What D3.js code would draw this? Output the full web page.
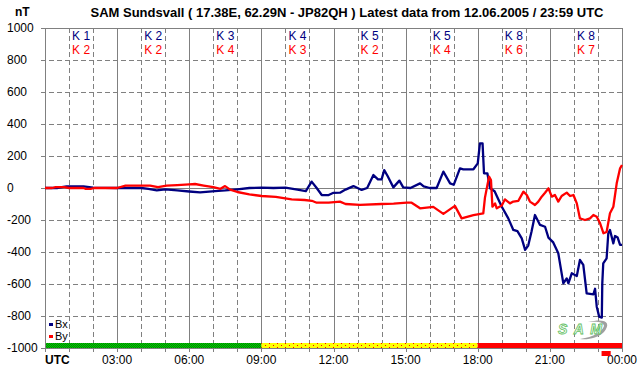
<!DOCTYPE html>
<html>
<head>
<meta charset="utf-8">
<script src="https://cdn.jsdelivr.net/npm/d3@7"></script>
<style>
  body { margin: 0; background: #fff; }
  svg { display: block; font-family: "Liberation Sans", Arial, sans-serif; }
</style>
</head>
<body>
<div id="chart"></div>
<script>
// Bx / By from SAM Sundsvall, hours UTC and nT
var bxHours = [0, 0.5, 0.9, 1.6, 2.0, 3.0, 4.0, 4.3, 4.65, 5.0, 5.5, 6.0, 6.45, 7.07, 7.5, 8.0, 8.5, 9.0, 9.5, 10.0,
  10.5, 10.85, 11.09, 11.3, 11.51, 11.8, 12.0, 12.27, 12.5, 12.83, 13.17, 13.4, 13.66, 13.85, 14.0, 14.11, 14.25, 14.49,
  14.74, 14.9, 15.2, 15.6, 15.75, 16.0, 16.29, 16.57, 16.85, 17.0, 17.26, 17.4, 17.82, 18.0, 18.09, 18.2, 18.26, 18.4,
  18.51, 18.7, 19.0, 19.27, 19.48, 19.65, 19.83, 19.97, 20.1, 20.24, 20.38, 20.59, 20.8, 20.94, 21.14, 21.35, 21.42,
  21.56, 21.7, 21.77, 21.91, 22.12, 22.25, 22.39, 22.53, 22.81, 22.88, 22.95, 23.05, 23.16, 23.18, 23.22, 23.36, 23.43,
  23.5, 23.64, 23.71, 23.82, 23.92, 24.0];
var bxValues = [0, 0, 10, 10, 2, 0, 0, -5, -15, -8, -15, -22, -27, -19, -15, -8, 0, 2, 0, 2,
  -10, -20, 40, 0, -44, -44, -30, -29, -10, 12, -12, 0, 81, 54, 54, 112, 75, 4,
  46, 4, 0, 29, 10, 0, 0, 102, 29, 20, 123, 117, 117, 154, 279, 279, 92, 92,
  -2, -20, -117, -190, -262, -270, -315, -387, -360, -270, -169, -231, -242, -310, -340, -408, -471,
  -596, -565, -596, -533, -550, -450, -480, -658, -665, -630, -742, -804, -810, -596, -471, -440, -283,
  -262, -346, -300, -310, -356, -356];

var byHours = [0, 0.3, 0.45, 0.8, 1.0, 1.6, 1.7, 1.9, 2.05, 3.0, 3.35, 4.37, 4.7, 5.06, 5.5, 6.0, 6.24, 6.6, 7.0, 7.3,
  7.49, 7.7, 8.0, 8.5, 9.01, 9.6, 10.26, 10.8, 11.1, 11.3, 11.8, 12.27, 12.5, 13.1, 14.0, 14.5, 15.05, 15.25, 15.6,
  16.15, 16.57, 17.05, 17.33, 17.82, 18.23, 18.3, 18.47, 18.55, 18.61, 18.72, 18.79, 19.0, 19.13, 19.34, 19.48, 19.69,
  19.9, 20.04, 20.17, 20.38, 20.52, 20.66, 20.8, 20.94, 21.08, 21.21, 21.35, 21.49, 21.7, 21.84, 21.98, 22.12, 22.25,
  22.46, 22.67, 22.81, 22.95, 23.09, 23.23, 23.36, 23.5, 23.64, 23.78, 23.92, 24.0];
var byValues = [0, 0, 6, 6, 0, 0, -6, -6, 0, 0, 15, 15, 5, 15, 18, 23, 25, 15, 5, -5,
  12, -10, -25, -40, -50, -55, -71, -75, -80, -92, -92, -85, -100, -106, -100, -98, -92, -92, -127,
  -118, -162, -112, -190, -169, -158, -60, 71, 50, -117, -96, -127, -110, -71, -96, -85, -80,
  -23, -44, -85, -106, -85, -54, -30, -2, -54, -44, -85, -50, -29, -50, -44, -96, -190,
  -200, -190, -169, -180, -221, -283, -275, -158, -117, 29, 123, 144];

// K indices per 3-hour block
var kBx = [1, 2, 3, 4, 5, 5, 8, 8];
var kBy = [2, 2, 4, 3, 2, 4, 6, 7];

var yTicks = [1000, 800, 600, 400, 200, 0, -200, -400, -600, -800, -1000];
var xTickLabels = ["UTC", "03:00", "06:00", "09:00", "12:00", "15:00", "18:00", "21:00", "00:00"];

// activity bar: start hour, end hour, level
var statusStart = [0, 9, 18];
var statusEnd = [9, 18, 24];
var statusLevel = ["quiet", "active", "storm"];
var markerHours = [23.15, 23.53];

(function () {
  var W = 642, H = 376;
  var pLeft = 45, pRight = 622, pTop = 28, pBottom = 348;

  var svg = d3.select("#chart").append("svg")
    .attr("width", W)
    .attr("height", H);

  var x = d3.scaleLinear().domain([0, 24]).range([pLeft, pRight]);
  var y = d3.scaleLinear().domain([-1000, 1000]).range([pBottom, pTop]);

  var defs = svg.append("defs");
  var pg = defs.append("pattern").attr("id", "pGreen")
    .attr("width", 2).attr("height", 2).attr("patternUnits", "userSpaceOnUse");
  pg.append("rect").attr("width", 2).attr("height", 2).attr("fill", "#00d000");
  pg.append("rect").attr("width", 1).attr("height", 1).attr("fill", "#008000");
  pg.append("rect").attr("x", 1).attr("y", 1).attr("width", 1).attr("height", 1).attr("fill", "#008000");
  var py = defs.append("pattern").attr("id", "pYellow")
    .attr("width", 8).attr("height", 4).attr("patternUnits", "userSpaceOnUse");
  py.append("rect").attr("width", 8).attr("height", 4).attr("fill", "#ffff00");
  py.append("rect").attr("x", 1).attr("y", 1).attr("width", 1).attr("height", 1).attr("fill", "#ff0000");
  py.append("rect").attr("x", 5).attr("y", 3).attr("width", 1).attr("height", 1).attr("fill", "#ff0000");
  var fills = { quiet: "url(#pGreen)", active: "url(#pYellow)", storm: "#ff0000" };

  var grid = "#808080";

  // horizontal grid
  svg.append("g").selectAll("line")
    .data(yTicks)
    .enter().append("line")
      .attr("x1", pLeft - 4).attr("x2", pRight)
      .attr("y1", function(d) { return Math.round(y(d)) + 0.5; })
      .attr("y2", function(d) { return Math.round(y(d)) + 0.5; })
      .attr("stroke", grid)
      .attr("stroke-dasharray", function(d) { return (d === 0 || d === 1000 || d === -1000) ? null : "5,3"; });

  // vertical grid, every hour
  svg.append("g").selectAll("line")
    .data(d3.range(0, 25))
    .enter().append("line")
      .attr("x1", function(d) { return Math.round(x(d)) + 0.5; })
      .attr("x2", function(d) { return Math.round(x(d)) + 0.5; })
      .attr("y1", pTop).attr("y2", pBottom + 4)
      .attr("stroke", grid)
      .attr("stroke-dasharray", function(d) { return d % 3 === 0 ? null : "5,3"; });

  // y labels
  svg.append("g").selectAll("text")
    .data(yTicks)
    .enter().append("text")
      .attr("x", 7)
      .attr("y", function(d) { return y(d); })
      .attr("dy", "0.35em")
      .attr("font-size", 12)
      .text(function(d) { return d; });

  // x labels
  svg.append("g").selectAll("text")
    .data(xTickLabels)
    .enter().append("text")
      .attr("x", function(d, i) { return i === 0 ? pLeft : x(i * 3); })
      .attr("y", 364)
      .attr("font-size", 12)
      .attr("font-weight", function(d, i) { return i === 0 ? "bold" : null; })
      .attr("text-anchor", function(d, i) { return i === 0 ? "start" : "middle"; })
      .text(function(d) { return d; });

  // K indices
  var kg = svg.append("g").attr("font-size", 12);
  kg.selectAll("text.kx")
    .data(kBx)
    .enter().append("text")
      .attr("class", "kx")
      .attr("x", function(d, i) { return x(i * 3 + 1.5); })
      .attr("y", 40)
      .attr("text-anchor", "middle")
      .attr("fill", "#000080")
      .text(function(d) { return "K " + d; });
  kg.selectAll("text.ky")
    .data(kBy)
    .enter().append("text")
      .attr("class", "ky")
      .attr("x", function(d, i) { return x(i * 3 + 1.5); })
      .attr("y", 54)
      .attr("text-anchor", "middle")
      .attr("fill", "#ff0000")
      .text(function(d) { return "K " + d; });

  // activity bar
  svg.append("g").selectAll("rect")
    .data(statusLevel)
    .enter().append("rect")
      .attr("x", function(d, i) { return x(statusStart[i]); })
      .attr("width", function(d, i) { return x(statusEnd[i]) - x(statusStart[i]); })
      .attr("y", 343)
      .attr("height", 5)
      .attr("fill", function(d) { return fills[d]; });

  svg.append("rect")
    .attr("x", x(markerHours[0]))
    .attr("width", x(markerHours[1]) - x(markerHours[0]))
    .attr("y", 351).attr("height", 5)
    .attr("fill", "#ff0000");

  // axis lines
  svg.append("line").attr("x1", pLeft + 0.5).attr("x2", pLeft + 0.5).attr("y1", pTop).attr("y2", pBottom + 4).attr("stroke", grid);
  svg.append("line").attr("x1", pLeft).attr("x2", pRight).attr("y1", pBottom + 0.5).attr("y2", pBottom + 0.5).attr("stroke", grid);

  // logo
  var logo = svg.append("g");
  logo.append("path")
    .attr("d", "M588,322 C605,318 612,322 604,332 C598,338 588,340 580,339 C594,337 602,332 604,326 C604,322 597,321 588,322 Z")
    .attr("fill", "#a0a0a0");
  logo.append("text")
    .attr("x", 558).attr("y", 334)
    .attr("font-size", 14).attr("font-style", "italic").attr("font-weight", "bold")
    .attr("fill", "#ffffff").attr("stroke", "#60c060").attr("stroke-width", 0.8)
    .attr("textLength", 44)
    .text("SAM");

  // series
  var line = d3.line()
    .x(function(d) { return x(d[0]); })
    .y(function(d) { return y(d[1]); });

  svg.append("path")
    .datum(d3.zip(bxHours, bxValues))
    .attr("d", line)
    .attr("fill", "none")
    .attr("stroke", "#000080")
    .attr("stroke-width", 2.3)
    .attr("stroke-linejoin", "round");

  svg.append("path")
    .datum(d3.zip(byHours, byValues))
    .attr("d", line)
    .attr("fill", "none")
    .attr("stroke", "#ff0000")
    .attr("stroke-width", 2.3)
    .attr("stroke-linejoin", "round");

  // legend
  var legend = svg.append("g").attr("font-size", 11);
  [["Bx", "#000080"], ["By", "#ff0000"]].forEach(function(d, i) {
    legend.append("rect").attr("x", 49).attr("y", 323 + i * 12).attr("width", 4).attr("height", 3).attr("fill", d[1]);
    legend.append("text").attr("x", 55).attr("y", 328 + i * 12).text(d[0]);
  });

  // titles
  svg.append("text")
    .attr("x", 15).attr("y", 16)
    .attr("font-size", 12).attr("font-weight", "bold")
    .text("nT");
  svg.append("text")
    .attr("x", 347).attr("y", 17)
    .attr("font-size", 13).attr("font-weight", "bold")
    .attr("text-anchor", "middle")
    .text("SAM Sundsvall ( 17.38E, 62.29N - JP82QH ) Latest data from 12.06.2005 / 23:59 UTC");
})();
</script>
</body>
</html>
